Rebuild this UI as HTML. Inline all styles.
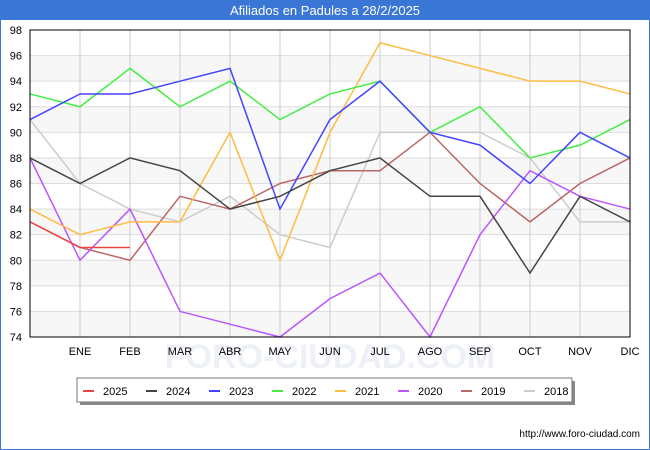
<!DOCTYPE html>
<html><head><meta charset="utf-8"><style>
body{margin:0;background:#fff;font-family:"Liberation Sans",sans-serif}
#wrap{position:relative;width:648px;height:448px;border:1px solid #3a76d6;overflow:hidden}
</style></head><body>
<div id="wrap">
<svg id="chart" width="648" height="448" viewBox="1 1 648 448">
<rect x="0" y="0" width="650" height="20" fill="#3a76d6"/>
<text x="325" y="15" text-anchor="middle" font-size="13" fill="#fff">Afiliados en Padules a 28/2/2025</text>
<g id="bands"></g><g id="grid"></g>
<text x="330" y="368" text-anchor="middle" font-size="34" fill="#eef0f8" font-weight="bold">FORO-CIUDAD.COM</text>
<g id="series"></g>
<rect x="30" y="30" width="600" height="307" fill="none" stroke="#000"/>
<g id="axes"></g>
<rect x="80" y="381" width="495" height="24" fill="#888"/>
<rect x="77" y="378" width="495" height="24" fill="#fff" stroke="#777"/>
<g id="legend"></g>
<text x="640" y="437" text-anchor="end" font-size="10" fill="#000">http://www.foro-ciudad.com</text>
</svg></div>
<script>
const months=["ENE","FEB","MAR","ABR","MAY","JUN","JUL","AGO","SEP","OCT","NOV","DIC"];
const yTicks=[74,76,78,80,82,84,86,88,90,92,94,96,98];
const years=["2025","2024","2023","2022","2021","2020","2019","2018"];
const colors=["#ee4444","#444444","#4444ff","#44ee44","#ffbb44","#bb55ff","#bb6666","#cccccc"];
const s2025=[83,81,81];
const s2024=[88,86,88,87,84,85,87,88,85,85,79,85,83];
const s2023=[91,93,93,94,95,84,91,94,90,89,86,90,88];
const s2022=[93,92,95,92,94,91,93,94,90,92,88,89,91];
const s2021=[84,82,83,83,90,80,90,97,96,95,94,94,93];
const s2020=[88,80,84,76,75,74,77,79,74,82,87,85,84];
const s2019=[83,81,80,85,84,86,87,87,90,86,83,86,88];
const s2018=[91,86,84,83,85,82,81,90,90,90,88,83,83];
const seriesData=[s2025,s2024,s2023,s2022,s2021,s2020,s2019,s2018];
const NS="http://www.w3.org/2000/svg";
const X=i=>30+i*50, Y=v=>337-(v-74)*(307/24);
function mk(tag,attrs,parent){const e=document.createElementNS(NS,tag);for(const k in attrs)e.setAttribute(k,attrs[k]);parent.appendChild(e);return e;}
const bands=document.getElementById('bands'),grid=document.getElementById('grid'),axes=document.getElementById('axes'),ser=document.getElementById('series'),leg=document.getElementById('legend');
for(let v=74;v<98;v+=4){const r=mk('rect',{x:30,y:Y(v+2),width:600,height:Y(v)-Y(v+2),fill:'#f7f7f7'},bands);

}
yTicks.forEach(v=>{const l=mk('line',{x1:30,x2:630,y1:Y(v),y2:Y(v),stroke:'#ddd'},grid);


const t=mk('text',{x:22,y:Y(v)+4,'text-anchor':'end','font-size':11},axes);t.textContent=v;

});
months.forEach((m,i)=>{const l=mk('line',{x1:X(i+1),x2:X(i+1),y1:30,y2:337,stroke:'#ccc'},grid);


const t=mk('text',{x:X(i+1),y:355,'text-anchor':'middle','font-size':11},axes);t.textContent=m;

});
for(let s=seriesData.length-1;s>=0;s--){const d=seriesData[s];
const p=mk('polyline',{points:d.map((v,i)=>X(i)+','+Y(v)).join(' '),fill:'none',stroke:colors[s],'stroke-width':1.5},ser);

}
years.forEach((y,i)=>{const x=83+i*63;
const l=mk('line',{x1:x,x2:x+11,y1:391,y2:391,stroke:colors[i],'stroke-width':2},leg);


const t=mk('text',{x:x+20,y:395,'font-size':11},leg);t.textContent=y;

});
</script></body></html>
